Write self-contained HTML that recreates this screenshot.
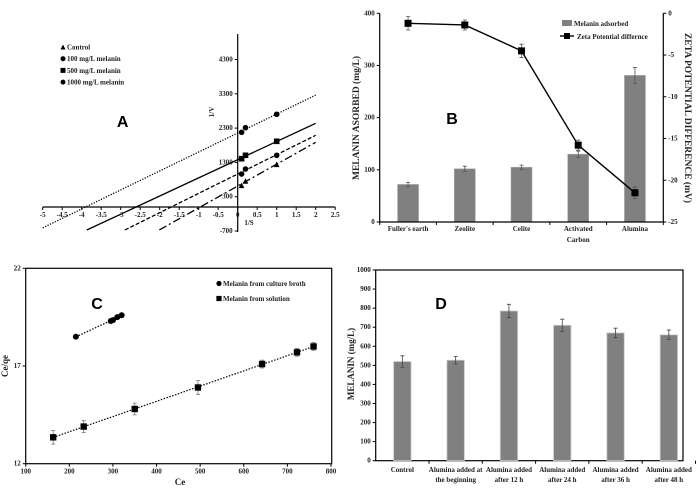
<!DOCTYPE html>
<html><head><meta charset="utf-8">
<style>
html,body{margin:0;padding:0;background:#fff;}
svg{display:block;font-family:"Liberation Serif",serif;}
.t{font-size:7px;font-weight:bold;fill:#222;}
.big{font-family:"Liberation Sans",sans-serif;font-weight:bold;font-size:16px;fill:#000;}
</style></head>
<body>
<svg id="fig" width="696" height="499" viewBox="0 0 696 499"></svg>
<script>
// ---- Panel A data ----
const aSeriesNames = ['Control','100 mg/L melanin','500 mg/L melanin','1000 mg/L melanin'];
const aXTicks = [-5,-4.5,-4,-3.5,-3,-2.5,-2,-1.5,-1,-0.5,0,0.5,1,1.5,2,2.5];
const aYTicks = [-700,300,1300,2300,3300,4300];
const aPointsX = [0.1,0.2,1];
const aControlY = [633,758,1245];
const a100Y = [962,1108,1507];
const a500Y = [1408,1507,1915];
const a1000Y = [2178,2312,2703];
const aSlopes = [637,564,530,553];
const aIntercepts = [612,962,1380,2157];
const aLineStart = [-2.01,-2.89,-3.87,-5];
// ---- Panel B data ----
const bCategories = ["Fuller's earth","Zeolite","Celite","Activated|Carbon","Alumina"];
const bAdsorbed = [72,102,105,130,281];
const bAdsorbedErr = [4,5,4,6,15];
const bZeta = [-1.2,-1.4,-4.5,-15.8,-21.5];
const bZetaErr = [0.8,0.6,0.8,0.6,0.7];
const bLeftTicks = [0,100,200,300,400];
const bRightTicks = [0,-5,-10,-15,-20,-25];
// ---- Panel C data ----
const cBrothX = [215,295,300,310,320];
const cBrothY = [18.5,19.3,19.35,19.5,19.6];
const cSolX = [163,233,350,495,642,722,760];
const cSolY = [13.35,13.9,14.8,15.9,17.1,17.7,18.0];
const cErr = [0.35,0.3,0.3,0.35,0.2,0.2,0.2];
const cXTicks = [100,200,300,400,500,600,700,800];
const cYTicks = [12,17,22];
// ---- Panel D data ----
const dCategories = ["Control","Alumina added at|the beginning","Alumina added|after 12 h","Alumina added|after 24 h","Alumina added|after 36 h","Alumina added|after 48 h"];
const dValues = [520,527,785,710,670,660];
const dErr = [30,20,35,32,25,25];
const dYTicks = [0,100,200,300,400,500,600,700,800,900,1000];

const svg = document.getElementById('fig');
const NS = 'http://www.w3.org/2000/svg';
function mk(tag, attrs, parent){
  const e = document.createElementNS(NS, tag);
  for (const k in attrs) e.setAttribute(k, attrs[k]);
  (parent||svg).appendChild(e);
  return e;
}
function txt(x,y,s,cls,anchor,parent){
  const e = mk('text',{x:x,y:y,class:cls||'t','text-anchor':anchor||'middle'},parent);
  e.textContent = s; return e;
}
function marker(shape,x,y,g,s){
  s = s||3;
  if(shape==='circle') return mk('circle',{cx:x,cy:y,r:s,fill:'#000'},g);
  if(shape==='square') return mk('rect',{x:x-s,y:y-s,width:2*s,height:2*s,fill:'#000'},g);
  return mk('polygon',{points:`${x},${y-s} ${x+s},${y+s} ${x-s},${y+s}`,fill:'#000'},g);
}

// ================= Panel A =================
const gA = mk('g',{});


const ax = v => 237.7 + v*39;
const ay = v => 207 - v*0.0343;
mk('line',{x1:ax(-5),y1:ay(0),x2:ax(2.5),y2:ay(0),stroke:'#000','stroke-width':1.2},gA);
mk('line',{x1:ax(0),y1:34,x2:ax(0),y2:232,stroke:'#000','stroke-width':1.2},gA);
aXTicks.forEach(v=>{
  mk('line',{x1:ax(v),y1:ay(0),x2:ax(v),y2:ay(0)+3,stroke:'#000'},gA);
  const t = txt(ax(v),ay(0)+10,String(v),'t','middle',gA);
   
});
aYTicks.forEach(v=>{
  mk('line',{x1:ax(0)-3,y1:ay(v),x2:ax(0),y2:ay(v),stroke:'#000'},gA);
  const t = txt(ax(0)-5,ay(v)+2,String(v),'t','end',gA);
   
});
const aDash = ['8 3 2 3','4 2','','1.2 1.5'];
const aYs = [aControlY,a100Y,a500Y,a1000Y];
const aShapes = ['tri','circle','square','circle'];
for(let i=0;i<4;i++){
  const x0 = aLineStart[i], x1 = 2;
  const ln = mk('line',{x1:ax(x0),y1:ay(aSlopes[i]*x0+aIntercepts[i]),x2:ax(x1),y2:ay(aSlopes[i]*x1+aIntercepts[i]),stroke:'#000','stroke-width':1.3,'stroke-dasharray':aDash[i]},gA);
  
  
  aPointsX.forEach((px,j)=>{
    const m = marker(aShapes[i],ax(px),ay(aYs[i][j]),gA,2.8);
    
    
  });
}
aSeriesNames.forEach((n,i)=>{
  const y = 47 + i*11.7;
  marker(aShapes[i],63,y,gA,2.5);
  const t = txt(67,y+2.5,n,'t','start',gA);
   
});
const aLab = txt(122.7,127,'A','big','middle',gA);
 
const aYT = txt(0,0,'1/V','t','middle',gA);
aYT.setAttribute('transform','translate(214,112) rotate(-90)');
 
const aXT = txt(249,225,'1/S','t','middle',gA);
 

// ================= Panel B =================
const gB = mk('g',{});


const bL = 379.7, bR = 663.3, bTop = 13.3, bBot = 222;
const by = v => bBot - v*(bBot-bTop)/400;
const bz = v => bTop - v*(bBot-bTop)/25;
const bStep = (bR-bL)/5;
const bx = i => bL + bStep*(i+0.5);
bCategories.forEach((c,i)=>{
  const r = mk('rect',{x:bx(i)-10.5,y:by(bAdsorbed[i]),width:21,height:bBot-by(bAdsorbed[i]),fill:'#808080',stroke:'#aaa','stroke-width':0.6},gB);
  
  
  const e1 = by(bAdsorbed[i]+bAdsorbedErr[i]), e2 = by(bAdsorbed[i]-bAdsorbedErr[i]);
  mk('path',{d:`M${bx(i)} ${e1}V${e2}M${bx(i)-2} ${e1}h4M${bx(i)-2} ${e2}h4`,stroke:'#555','stroke-width':0.8,fill:'none'},gB);
  const parts = c.split('|');
  parts.forEach((p,k)=>{
    const t = txt(bx(i),231+k*11,p,'t','middle',gB);
     
  });
});
mk('path',{d:`M${bL} ${bTop}V${bBot}H${bR}V${bTop}`,stroke:'#000','stroke-width':1.2,fill:'none'},gB);
bLeftTicks.forEach(v=>{
  mk('line',{x1:bL-3,y1:by(v),x2:bL,y2:by(v),stroke:'#000'},gB);
  txt(bL-5,by(v)+2,String(v),'t','end',gB);
});
bRightTicks.forEach(v=>{
  mk('line',{x1:bR,y1:bz(v),x2:bR+3,y2:bz(v),stroke:'#000'},gB);
  txt(bR+5,bz(v)+2,String(v),'t','start',gB);
});
for(let i=0;i<=5;i++) mk('line',{x1:bL+bStep*i,y1:bBot,x2:bL+bStep*i,y2:bBot+3,stroke:'#000'},gB);
const zl = mk('polyline',{points:bZeta.map((v,i)=>`${bx(i)},${bz(v)}`).join(' '),fill:'none',stroke:'#000','stroke-width':1.4},gB);


bZeta.forEach((v,i)=>{
  const e1 = bz(v+bZetaErr[i]), e2 = bz(v-bZetaErr[i]);
  mk('path',{d:`M${bx(i)} ${e1}V${e2}M${bx(i)-2} ${e1}h4M${bx(i)-2} ${e2}h4`,stroke:'#555','stroke-width':0.8,fill:'none'},gB);
  const m = marker('square',bx(i),bz(v),gB,3.5);
  
  
});
mk('rect',{x:562,y:20,width:10,height:6,fill:'#808080'},gB);
const bl1 = txt(574,26,'Melanin adsorbed','t','start',gB);
 
mk('line',{x1:560,y1:36,x2:574,y2:36,stroke:'#000','stroke-width':1.4},gB);
marker('square',567,36,gB,3);
const bl2 = txt(577,39,'Zeta Potential differnce','t','start',gB);
 
const bLab = txt(452,124,'B','big','middle',gB);
 
const bYL = txt(0,0,'MELANIN ASORBED (mg/L)','t','middle',gB);
bYL.setAttribute('style','font-size:9.5px');
bYL.setAttribute('transform','translate(359,118) rotate(-90)');
 
const bYR = txt(0,0,'ZETA POTENTIAL DIFFERENCE  (mV)','t','middle',gB);
bYR.setAttribute('style','font-size:9.5px');
bYR.setAttribute('transform','translate(685,118) rotate(90)');
 

// ================= Panel C =================
const gC = mk('g',{});


const cL = 25.7, cR = 331.7, cT = 268.3, cB = 463.7;
const cx = v => cL + (v-100)*(331-cL)/700;
const cy = v => cB - (v-12)*(cB-cT)/10;
mk('rect',{x:cL,y:cT,width:cR-cL,height:cB-cT,fill:'none',stroke:'#000','stroke-width':1.2},gC);
cXTicks.forEach(v=>{
  mk('line',{x1:cx(v),y1:cB,x2:cx(v),y2:cB+3,stroke:'#000'},gC);
  txt(cx(v),cB+10,String(v),'t','middle',gC);
});
cYTicks.forEach(v=>{
  mk('line',{x1:cL-3,y1:cy(v),x2:cL,y2:cy(v),stroke:'#000'},gC);
  txt(cL-5,cy(v)+2,String(v),'t','end',gC);
});
function cFit(xs,ys,name){
  const n=xs.length; let sx=0,sy=0,sxx=0,sxy=0;
  for(let i=0;i<n;i++){sx+=xs[i];sy+=ys[i];sxx+=xs[i]*xs[i];sxy+=xs[i]*ys[i];}
  const m=(n*sxy-sx*sy)/(n*sxx-sx*sx), b=(sy-m*sx)/n;
  const x0=Math.min(...xs), x1=Math.max(...xs);
  const l = mk('line',{x1:cx(x0),y1:cy(m*x0+b),x2:cx(x1),y2:cy(m*x1+b),stroke:'#000','stroke-width':1.2,'stroke-dasharray':'1.5 1.5'},gC);
  
  
}
cFit(cBrothX,cBrothY,'c-broth-fit-line');
cFit(cSolX,cSolY,'c-solution-fit-line');
cBrothX.forEach((v,i)=>{
  mk('path',{d:`M${cx(v)} ${cy(cBrothY[i]+0.15)}V${cy(cBrothY[i]-0.15)}`,stroke:'#777','stroke-width':0.8},gC);
  const m = marker('circle',cx(v),cy(cBrothY[i]),gC,3);
  
  
});
cSolX.forEach((v,i)=>{
  const e1=cy(cSolY[i]+cErr[i]), e2=cy(cSolY[i]-cErr[i]);
  mk('path',{d:`M${cx(v)} ${e1}V${e2}M${cx(v)-2} ${e1}h4M${cx(v)-2} ${e2}h4`,stroke:'#777','stroke-width':0.8,fill:'none'},gC);
  const m = marker('square',cx(v),cy(cSolY[i]),gC,3.2);
  
  
});
marker('circle',219,283.5,gC,2.6);
const cl1 = txt(223,286,'Melanin from culture broth','t','start',gC);
 
marker('square',219,298.5,gC,2.6);
const cl2 = txt(223,301,'Melanin from solution','t','start',gC);
 
const cLab = txt(97,309,'C','big','middle',gC);
 
const cXL = txt(180,485,'Ce','t','middle',gC);
cXL.setAttribute('style','font-size:9px');
 
const cYL = txt(0,0,'Ce/qe','t','middle',gC);
cYL.setAttribute('style','font-size:9px');
cYL.setAttribute('transform','translate(8,366) rotate(-90)');
 

// ================= Panel D =================
const gD = mk('g',{});


const dL = 375.7, dR = 683, dT = 270, dB = 460.7;
const dy = v => dB - v*(dB-dT)/1000;
const dStep = 53.3;
const dx = i => dL + dStep*(i+0.5);
mk('rect',{x:dL,y:dT,width:dR-dL,height:dB-dT,fill:'none',stroke:'#000','stroke-width':1.2},gD);
dYTicks.forEach(v=>{
  mk('line',{x1:dL-3,y1:dy(v),x2:dL,y2:dy(v),stroke:'#000'},gD);
  txt(dL-5,dy(v)+2,String(v),'t','end',gD);
});
dCategories.forEach((c,i)=>{
  const r = mk('rect',{x:dx(i)-8.7,y:dy(dValues[i]),width:17.4,height:dB-dy(dValues[i]),fill:'#808080',stroke:'#ccc','stroke-width':0.8},gD);
  
  
  const e1=dy(dValues[i]+dErr[i]), e2=dy(dValues[i]-dErr[i]);
  mk('path',{d:`M${dx(i)} ${e1}V${e2}M${dx(i)-2} ${e1}h4M${dx(i)-2} ${e2}h4`,stroke:'#444','stroke-width':0.8,fill:'none'},gD);
  mk('line',{x1:dL+dStep*(i+1),y1:dB,x2:dL+dStep*(i+1),y2:dB+3,stroke:'#000'},gD);
  c.split('|').forEach((p,k)=>{
    const t = txt(dx(i),472+k*10,p,'t','middle',gD);
     
  });
});
const dLab = txt(441,309,'D','big','middle',gD);
 
const dYL = txt(0,0,'MELANIN  (mg/L)','t','middle',gD);
dYL.setAttribute('style','font-size:9px');
dYL.setAttribute('transform','translate(354,364) rotate(-90)');
 
</script>
</body></html>
